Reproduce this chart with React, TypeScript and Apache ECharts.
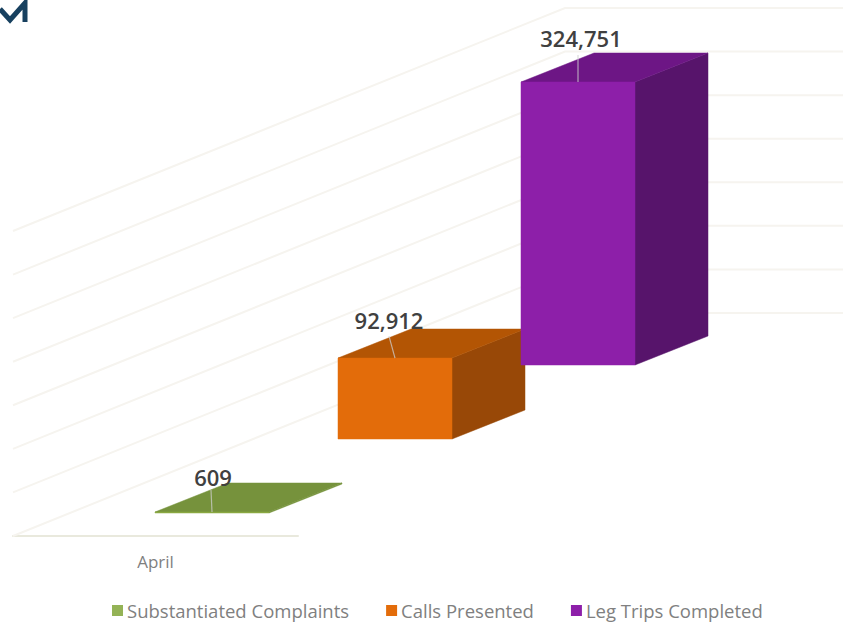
import React, { useEffect, useRef } from "react";
import * as echarts from "echarts";

const categories = ["April"];
const seriesNames = ["Substantiated Complaints", "Calls Presented", "Leg Trips Completed"];
const complaints = [609];
const calls = [92912];
const legTrips = [324751];
const gridTicks = [0, 50000, 100000, 150000, 200000, 250000, 300000, 350000];

const FRONT = ["#8aa843", "#e36c0a", "#8d1fa9"];
const LEGEND = ["#94b356", "#e36c0a", "#8d1fa9"];
const TOP = ["#76923c", "#b35504", "#6d1685"];
const SIDE = ["#76923c", "#984807", "#57146b"];
const LABEL_OFFSET = [[1, -35], [-6, -38], [3, -44]];
const LEADER_END = [[-1, -22], [-6, -22], [0, -27]];

const BAR_RATIO = 0.4;
const DEPTH_DX = 73;
const DEPTH_DY = -29;
const SLOT_DX = 183;
const SLOT_DY = -74;
const START_DX = 56.5;
const START_DY = -23;
const WALL_DX = 552;
const WALL_DY = -223;

function barItem(index: number) {
  return (_p: any, api: any) => {
    const base = api.coord([api.value(0), 0]);
    const top = api.coord([api.value(0), api.value(1)]);
    const w = api.size([1, 0])[0] * BAR_RATIO;
    const ox = START_DX + SLOT_DX * index;
    const oy = START_DY + SLOT_DY * index;
    const l = base[0] - w / 2 + ox;
    const r = l + w;
    const b = base[1] + oy;
    const t = Math.min(top[1] + oy, b - 1);
    const cx = (l + r) / 2;
    const poly = (points: number[][], fill: string) => ({
      type: "polygon",
      shape: { points },
      style: { fill, stroke: fill, lineWidth: 0.5 },
    });
    const [lx, ly] = LABEL_OFFSET[index];
    const [ex, ey] = LEADER_END[index];
    return {
      type: "group",
      children: [
        poly([[r, b], [r + DEPTH_DX, b + DEPTH_DY], [r + DEPTH_DX, t + DEPTH_DY], [r, t]], SIDE[index]),
        poly([[l, t], [l + DEPTH_DX, t + DEPTH_DY], [r + DEPTH_DX, t + DEPTH_DY], [r, t]], TOP[index]),
        poly([[l, b], [r, b], [r, t], [l, t]], FRONT[index]),
        {
          type: "line",
          shape: { x1: cx, y1: t, x2: cx + ex, y2: t + ey },
          style: { stroke: "rgba(205,205,205,0.75)", lineWidth: 1.2 },
        },
        {
          type: "text",
          x: cx + lx,
          y: t + ly,
          style: {
            text: Number(api.value(1)).toLocaleString("en-US"),
            fill: "#404040",
            font: '600 22px "Open Sans"',
            textAlign: "center",
            textVerticalAlign: "middle",
          },
        },
      ],
    };
  };
}

function wallItem(_p: any, api: any) {
  const c = api.coord([0, api.value(1)]);
  const w = api.size([1, 0])[0];
  const left = c[0] - w / 2;
  return {
    type: "polyline",
    shape: {
      points: [
        [left, c[1]],
        [left + WALL_DX, c[1] + WALL_DY],
        [left + WALL_DX + w, c[1] + WALL_DY],
      ],
    },
    style: { stroke: "#f6f4ef", fill: "none", lineWidth: 2 },
  };
}

export default function App() {
  const ref = useRef<HTMLDivElement>(null);
  useEffect(() => {
    const chart = echarts.init(ref.current!, undefined, { renderer: "svg" });
    const values = [complaints, calls, legTrips];
    chart.setOption({
      animation: false,
      backgroundColor: "#ffffff",
      grid: { left: 13, top: 231, width: 285, height: 305 },
      legend: {
        left: 107,
        top: 596,
        itemWidth: 11,
        itemHeight: 11,
        itemGap: 37,
        icon: "rect",
        data: seriesNames,
        textStyle: { color: "#808080", fontSize: 18.5, fontFamily: "Open Sans", padding: [0, 0, 0, -1] },
      },
      xAxis: {
        type: "category",
        data: categories,
        axisLine: { lineStyle: { color: "#e9e9dd", width: 2 } },
        axisTick: { show: false },
        axisLabel: { color: "#7f7f7f", fontSize: 17, fontFamily: "Open Sans", margin: 17 },
      },
      yAxis: {
        type: "value",
        min: 0,
        max: 350000,
        interval: 50000,
        show: false,
      },
      series: [
        {
          type: "custom",
          name: "walls",
          silent: true,
          renderItem: wallItem,
          data: gridTicks.map((v) => [categories[0], v]),
          encode: { x: 0, y: 1 },
        },
        ...seriesNames.map((name, i) => ({
          type: "custom",
          name,
          renderItem: barItem(i),
          itemStyle: { color: LEGEND[i] },
          data: values[i].map((v, k) => [categories[k], v]),
          encode: { x: 0, y: 1 },
        })),
      ],
      graphic: [
        {
          type: "polyline",
          shape: { points: [[0, 9], [10, 20], [25, 3], [25, 22]] },
          style: { stroke: "#17405f", fill: "none", lineWidth: 5 },
        },
      ],
    });
    return () => chart.dispose();
  }, []);
  return <div ref={ref} style={{ position: "absolute", left: 0, top: 0, width: 843, height: 629 }} />;
}
